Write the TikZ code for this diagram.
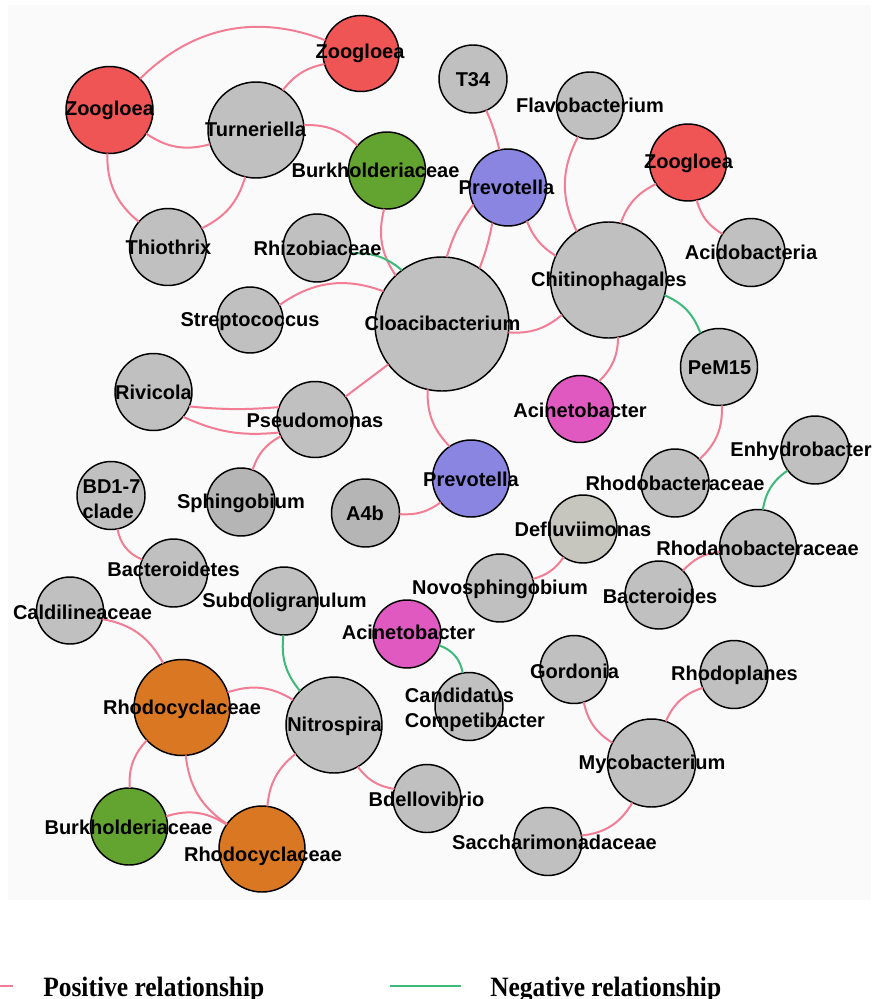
\documentclass[tikz,border=0pt]{standalone}
\usepackage{fontspec}
\newfontfamily\labfont{Liberation Sans}
\newfontfamily\legfont{Liberation Serif}
\definecolor{bggray}{HTML}{FAFAFA}
\definecolor{ngray}{HTML}{C0C0C0}
\definecolor{dgray}{HTML}{B5B5B5}
\definecolor{ngreen}{HTML}{63A32F}
\definecolor{nred}{HTML}{EF5555}
\definecolor{npurple}{HTML}{8985E0}
\definecolor{nmag}{HTML}{E059C1}
\definecolor{norange}{HTML}{D97722}
\definecolor{ndefl}{HTML}{C6C6BF}
\definecolor{pinkedge}{HTML}{F27D95}
\definecolor{greenedge}{HTML}{3DB97A}
\begin{document}
\begin{tikzpicture}[x=0.75pt,y=-0.75pt,
  nd/.style={circle,draw=black,line width=1.1pt,inner sep=0pt,outer sep=0pt,minimum size={#1*1.5pt}},
  gnode/.style={nd=#1,fill=ngray},
  dnode/.style={nd=#1,fill=dgray},
  rnode/.style={nd=#1,fill=nred},
  grnode/.style={nd=#1,fill=ngreen},
  pnode/.style={nd=#1,fill=npurple},
  mnode/.style={nd=#1,fill=nmag},
  onode/.style={nd=#1,fill=norange},
  posedge/.style={draw=pinkedge,line width=1.5pt},
  negedge/.style={draw=greenedge,line width=1.5pt},
  labtxt/.style={font=\labfont\bfseries\fontsize{15}{18.75}\selectfont,inner sep=0pt,anchor=base},
  labtwo/.style={font=\labfont\bfseries\fontsize{15}{18.75}\selectfont,inner sep=0pt,align=left,anchor=center},
  legtxt/.style={font=\legfont\bfseries\fontsize{21}{25}\selectfont,inner sep=0pt,anchor=base west}
]
\useasboundingbox (0,0) rectangle (871,999);
\fill[white] (0,0) rectangle (871,999);
\fill[bggray] (8,5) rectangle (871,900);

% nodes
\node[rnode=43.5] (zooL) at (109.5,110) {};
\node[rnode=38] (zooT) at (361,53.5) {};
\node[gnode=48] (turn) at (256,130) {};
\node[grnode=38.5] (burkT) at (387,170.5) {};
\node[gnode=38.5] (thio) at (168,247) {};
\node[gnode=34] (rhiz) at (317,248) {};
\node[gnode=33] (strep) at (250,320) {};
\node[gnode=67] (cloa) at (442,324) {};
\node[gnode=34] (t34) at (473,79) {};
\node[gnode=33.5] (flavo) at (590,105.5) {};
\node[pnode=38.5] (prevT) at (508,187.5) {};
\node[rnode=38.5] (zooR) at (688,162.5) {};
\node[gnode=34] (acido) at (751,252.5) {};
\node[gnode=58] (chit) at (608.5,280) {};
\node[gnode=38.5] (pem) at (719,367) {};
\node[mnode=33.5] (acinT) at (580,409) {};
\node[pnode=38.5] (prevB) at (471,478.5) {};
\node[gnode=34] (rhodob) at (675,483) {};
\node[gnode=34] (enhy) at (815,450) {};
\node[gnode=38.5] (rhodan) at (758,548) {};
\node[nd=34,fill=ndefl] (defl) at (583,529) {};
\node[gnode=34] (novo) at (500,588) {};
\node[gnode=34] (bactd) at (659,595) {};
\node[gnode=38.5] (rivi) at (153.5,392) {};
\node[gnode=38] (pseu) at (315,419.5) {};
\node[dnode=34] (sphi) at (241,502) {};
\node[gnode=34] (bd17) at (111,495.5) {};
\node[dnode=34] (a4b) at (365.5,513) {};
\node[gnode=34] (bacts) at (173.5,573) {};
\node[gnode=34] (subdo) at (284,601) {};
\node[gnode=33.5] (cald) at (70,610.5) {};
\node[onode=48] (rhoU) at (182,707.5) {};
\node[gnode=48] (nitro) at (334,725) {};
\node[grnode=38.5] (burkB) at (129,826.5) {};
\node[onode=43] (rhoL) at (262,849) {};
\node[mnode=34] (acinB) at (407,634) {};
\node[gnode=34] (cand) at (469,706.5) {};
\node[gnode=34] (bdel) at (427,798.5) {};
\node[gnode=34] (gord) at (574,669.5) {};
\node[gnode=34] (rhodop) at (734,674.5) {};
\node[gnode=44] (myco) at (651.5,763) {};
\node[gnode=34] (sacch) at (548,841.5) {};

% edges
\draw[posedge] (zooL) to[bend left=33] (zooT);
\draw[posedge] (zooL) to[bend right=25] (turn);
\draw[posedge] (zooL) to[bend right=26] (thio);
\draw[posedge] (turn) to[bend left=20] (zooT);
\draw[posedge] (turn) to[bend left=23] (burkT);
\draw[posedge] (turn) to[bend left=24] (thio);
\draw[posedge] (burkT) to[bend right=24] (cloa);
\draw[negedge] (rhiz) to[bend left=22] (cloa);
\draw[posedge] (strep) to[bend left=28] (cloa);
\draw[posedge] (cloa.86) to[bend left=10] (prevT.206);
\draw[posedge] (cloa.56) to[bend right=5] (prevT.246);
\draw[posedge] (prevT) to[bend right=5] (t34);
\draw[posedge] (prevT) to[bend right=18] (chit);
\draw[posedge] (flavo) to[bend right=27] (chit);
\draw[posedge] (zooR) to[bend right=22] (chit);
\draw[posedge] (zooR) to[bend right=22] (acido);
\draw[posedge] (cloa) to[bend right=22] (chit);
\draw[negedge] (chit) to[bend left=23] (pem);
\draw[posedge] (chit) to[bend left=22] (acinT);
\draw[posedge] (cloa) -- (pseu);
\draw[posedge] (cloa) to[bend right=23] (prevB);
\draw[posedge] (rivi.-22) to[bend right=5] (pseu.161);
\draw[posedge] (rivi.-40) to[bend right=15] (pseu.200);
\draw[posedge] (pseu) to[bend right=22] (sphi);
\draw[posedge] (a4b) to[bend right=20] (prevB);
\draw[posedge] (bd17) to[bend right=28] (bacts);
\draw[posedge] (cald) to[bend left=26] (rhoU);
\draw[negedge] (subdo) to[bend right=23] (nitro);
\draw[posedge] (rhoU) to[bend left=25] (nitro);
\draw[posedge] (rhoU) to[bend right=23] (burkB);
\draw[posedge] (rhoU) to[bend right=25] (rhoL);
\draw[posedge] (burkB) to[bend left=25] (rhoL);
\draw[posedge] (nitro) to[bend right=23] (rhoL);
\draw[posedge] (nitro) to[bend right=22] (bdel);
\draw[negedge] (acinB) to[bend left=30] (cand);
\draw[posedge] (defl) to[bend left=20] (novo);
\draw[posedge] (rhodob) to[bend right=25] (pem);
\draw[negedge] (enhy) to[bend right=23] (rhodan);
\draw[posedge] (bactd) to[bend left=20] (rhodan);
\draw[posedge] (gord) to[bend right=23] (myco);
\draw[posedge] (rhodop) to[bend right=24] (myco);
\draw[posedge] (myco) to[bend left=27] (sacch);

% labels
\node[labtxt] (tzooL) at (109.5,115) {Zoogloea};
\node[labtxt] (tzooT) at (360,59) {Zoogloea};
\node[labtxt] (tturn) at (255.5,137) {Turneriella};
\node[labtxt] (tburkT) at (375.5,177) {Burkholderiaceae};
\node[labtxt] (tthio) at (168.5,254) {Thiothrix};
\node[labtxt] (trhiz) at (317.5,255) {Rhizobiaceae};
\node[labtxt] (tstrep) at (250,326) {Streptococcus};
\node[labtxt] (tcloa) at (442.5,330) {Cloacibacterium};
\node[labtxt] (tt34) at (473,86) {T34};
\node[labtxt] (tflavo) at (590,113) {Flavobacterium};
\node[labtxt] (tprevT) at (506.5,194) {Prevotella};
\node[labtxt] (tzooR) at (688.5,168) {Zoogloea};
\node[labtxt] (tacido) at (751,259) {Acidobacteria};
\node[labtxt] (tchit) at (609,286) {Chitinophagales};
\node[labtxt] (tpem) at (719.5,374) {PeM15};
\node[labtxt] (tacinT) at (580,417) {Acinetobacter};
\node[labtxt] (tprevB) at (471,486) {Prevotella};
\node[labtxt] (trhodob) at (675,490) {Rhodobacteraceae};
\node[labtxt] (tenhy) at (801,456) {Enhydrobacter};
\node[labtxt] (trhodan) at (757.5,555) {Rhodanobacteraceae};
\node[labtxt] (tdefl) at (583,536) {Defluviimonas};
\node[labtxt] (tnovo) at (500,594) {Novosphingobium};
\node[labtxt] (tbactd) at (660,603) {Bacteroides};
\node[labtxt] (trivi) at (153.5,399) {Rivicola};
\node[labtxt] (tpseu) at (315,427) {Pseudomonas};
\node[labtxt] (tsphi) at (241,508) {Sphingobium};
\node[labtwo] (tbd17) at (111.5,499.5) {BD1-7\\clade};
\node[labtxt] (ta4b) at (365,520) {A4b};
\node[labtxt] (tbacts) at (173.5,576) {Bacteroidetes};
\node[labtxt] (tsubdo) at (284.5,607) {Subdoligranulum};
\node[labtxt] (tcald) at (82.5,619) {Caldilineaceae};
\node[labtxt] (trhoU) at (182,714) {Rhodocyclaceae};
\node[labtxt] (tnitro) at (334.5,731) {Nitrospira};
\node[labtxt] (tburkB) at (128.5,834) {Burkholderiaceae};
\node[labtxt] (trhoL) at (263,861) {Rhodocyclaceae};
\node[labtxt] (tacinB) at (408.5,639) {Acinetobacter};
\node[labtwo] (tcand) at (475,709.5) {Candidatus\\Competibacter};
\node[labtxt] (tbdel) at (426.5,806) {Bdellovibrio};
\node[labtxt] (tgord) at (574.5,678) {Gordonia};
\node[labtxt] (trhodop) at (734.5,680) {Rhodoplanes};
\node[labtxt] (tmyco) at (652,769) {Mycobacterium};
\node[labtxt] (tsacch) at (554.5,849) {Saccharimonadaceae};

% legend
\draw[posedge] (0,986) -- (13,986);
\node[legtxt] (lpos) at (43,996) {\scalebox{0.91}[1]{Positive relationship}};
\draw[negedge] (390,986) -- (461,986);
\node[legtxt] (lneg) at (490,996) {\scalebox{0.91}[1]{Negative relationship}};
\end{tikzpicture}
\end{document}
